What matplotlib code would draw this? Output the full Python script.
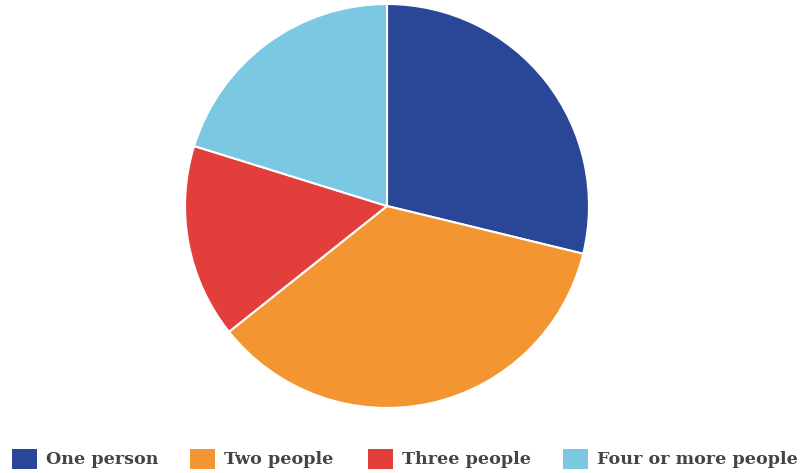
import matplotlib.pyplot as plt
from matplotlib.patches import Rectangle

# household size shares
labels = ['One person', 'Two people', 'Three people', 'Four or more people']
shares = [28.8, 35.5, 15.5, 20.2]
colors = ['#2a4697', '#f39530', '#e23e3c', '#7bc8e2']

W, H = 803, 473
fig = plt.figure(figsize=(W / 100, H / 100), dpi=100)
# pie centred at (387, 206) px, radius about 202 px
ax = fig.add_axes([(387 - 203) / W, (H - 409) / H, 406 / W, 406 / H])
ax.pie(shares, colors=colors, startangle=90, counterclock=False,
       wedgeprops=dict(edgecolor='white', linewidth=1.5))
ax.set_xlim(-1.005, 1.005)
ax.set_ylim(-1.005, 1.005)
ax.set_aspect('equal')
ax.axis('off')

# legend row laid out like the original (pixel positions of each key)
key_x = [12, 190, 368, 563]
for x, lab, c in zip(key_x, labels, colors):
    fig.patches.append(Rectangle((x / W, (H - 469) / H), 25 / W, 20 / H,
                                 transform=fig.transFigure, facecolor=c,
                                 edgecolor='none'))
    fig.text((x + 34) / W, (H - 459) / H, lab, ha='left', va='center',
             family='DejaVu Serif', weight='bold', size=12.6, color='#444444')

plt.savefig('out.png', dpi=100)
